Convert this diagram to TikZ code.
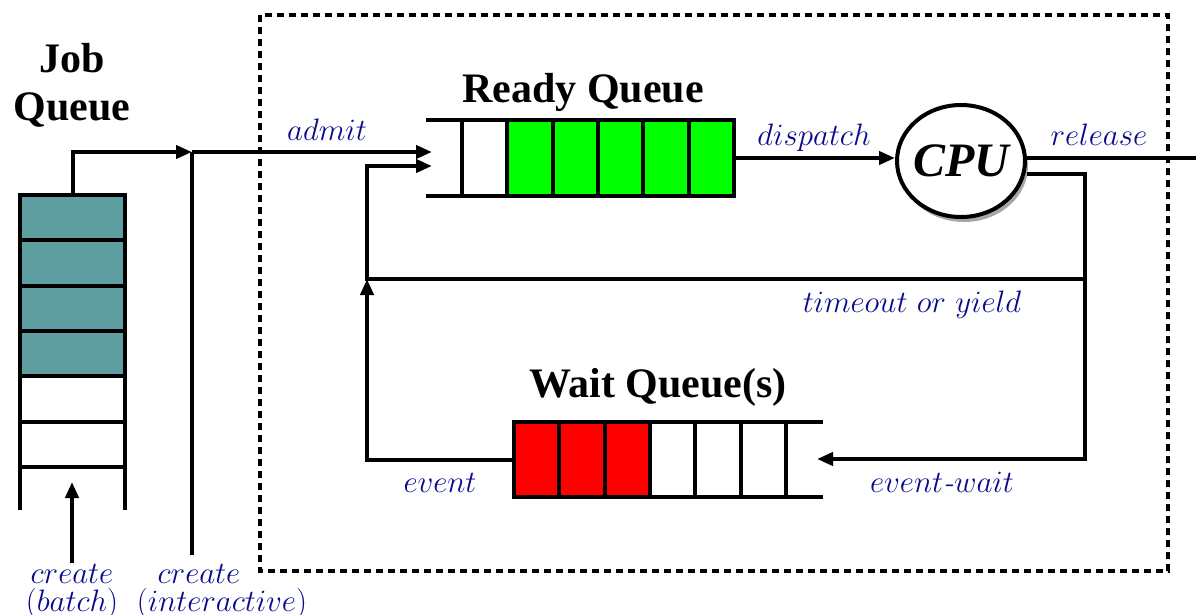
\RequirePackage{fix-cm}
\documentclass[tikz,border=0pt]{standalone}
\usepackage{fontspec}
\newfontfamily\tnr{Liberation Serif}
\usetikzlibrary{arrows.meta,shapes.geometric,shadows}
\definecolor{lblue}{RGB}{10,10,140}
\definecolor{jqfill}{RGB}{95,158,160}
\definecolor{rqfill}{RGB}{0,255,0}
\definecolor{wqfill}{RGB}{255,0,0}
\begin{document}
\begin{tikzpicture}[x=1pt,y=-1pt, line width=4pt,
  rcell/.style={draw, minimum width=45.3pt, minimum height=76pt, outer sep=0pt, inner sep=0pt},
  wcell/.style={draw, minimum width=45.3pt, minimum height=75pt, outer sep=0pt, inner sep=0pt},
  jcell/.style={draw, minimum width=105pt, minimum height=45.3pt, outer sep=0pt, inner sep=0pt},
  arr/.style={-{Triangle[length=16pt,width=13pt]}},
  lbl/.style={text=lblue, font=\fontsize{31}{31}\selectfont, anchor=base, inner sep=0pt},
  ttl/.style={font=\fontsize{42}{48}\selectfont\tnr\bfseries, anchor=base, inner sep=0pt, align=center}]
\useasboundingbox (0,0) rectangle (1196,615);

% dashed system boundary
\draw[dash pattern=on 7pt off 5pt, line width=3.2pt] (260,15) rectangle (1168,571);

% Job queue
\foreach \i/\c in {1/jqfill,2/jqfill,3/jqfill,4/jqfill,5/white,6/white}
  \node[jcell, fill=\c] (jq\i) at (72.5,{217.65+45.3*(\i-1)}) {};
\draw (jq6.south west) -- ++(0,43);
\draw (jq6.south east) -- ++(0,43);

% Ready queue
\foreach \i/\c in {1/white,2/rqfill,3/rqfill,4/rqfill,5/rqfill,6/rqfill}
  \node[rcell, fill=\c] (rq\i) at ({484.65+45.3*(\i-1)},158) {};
\draw (rq1.north west) -- ++(-36,0);
\draw (rq1.south west) -- ++(-36,0);

% Wait queue
\foreach \i/\c in {1/wqfill,2/wqfill,3/wqfill,4/white,5/white,6/white}
  \node[wcell, fill=\c] (wq\i) at ({536.65+45.3*(\i-1)},459.5) {};
\draw (wq6.north east) -- ++(37,0);
\draw (wq6.south east) -- ++(37,0);

% CPU
\node[ellipse, draw, fill=white, minimum width=128pt, minimum height=112pt, inner sep=0pt,
  drop shadow={shadow xshift=3pt, shadow yshift=-5pt, fill=gray!70, opacity=1},
  font=\fontsize{48}{48}\selectfont\tnr\bfseries\itshape] (cpu) at (961,161) {\makebox[40pt][c]{CPU}};

% coordinates
\coordinate (jn) at (192,152);
\coordinate (ci) at (192,555);
\coordinate (rqin1) at (432,152);
\coordinate (rqin2) at (432,166);
\coordinate (lj) at (367,279);
\coordinate (tj) at (1085,279);
\coordinate (cr) at (1085,174);
\coordinate (wqin) at (817,459);
\coordinate (rel) at (1212,158);
\coordinate (cbtip) at (72,482);
\coordinate (cbfoot) at (72,563);

% connectors
\draw[arr] (jq1.north) |- (jn);
\draw (ci) -- (jn);
\draw[arr] (jn) -- (rqin1);
\draw[arr] (tj) -- (lj) |- (rqin2);
\draw[arr] (rq6.east) -- (rq6.east -| cpu.west);
\draw[arr] (cpu.east |- rel) -- (rel);
\draw[arr] (cr -| cpu.east) -- (cr) |- (wqin);
\draw[arr] (wq1.west) -| (lj);
\draw[arr] (cbfoot) -- (cbtip);

% labels
\node[ttl] (jqt) at (72,121) {Job\\Queue};
\node[ttl] (rqt) at (583,103) {Ready Queue};
\node[ttl] (wqt) at (658,397) {Wait Queue(s)};
\node[lbl] (ladmit) at (327,141) {$admit$};
\node[lbl] (ldisp) at (814,146) {$dispatch$};
\node[lbl] (lrel) at (1099,146) {$release$};
\node[lbl] (ltime) at (912,312) {$timeout\ or\ yield$};
\node[lbl] (lev) at (440,492) {$event$};
\node[lbl] (levw) at (942,492) {$event\mbox{\itshape -}wait$};
\node[lbl] (lcb1) at (72,583) {$create$};
\node[lbl] (lcb2) at (72,611) {$(batch)$};
\node[lbl] (lci1) at (199,583) {$create$};
\node[lbl] (lci2) at (222,611) {$(interactive)$};
\end{tikzpicture}
\end{document}
